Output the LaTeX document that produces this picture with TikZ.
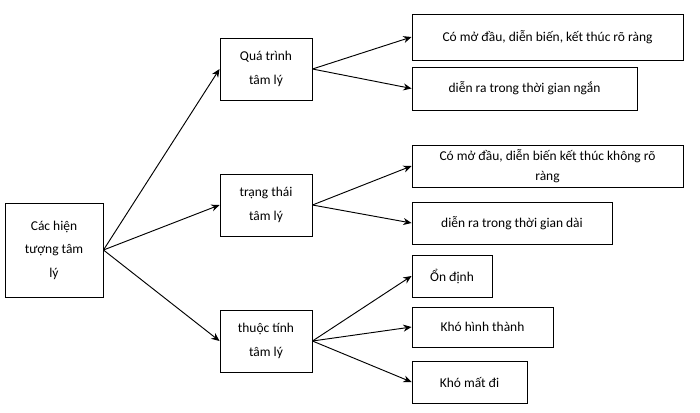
\documentclass[tikz,border=0pt]{standalone}
\usepackage{fontspec}
\setmainfont{Carlito}
\usetikzlibrary{arrows.meta}

\begin{document}
\begin{tikzpicture}[
    x=0.03cm, y=-0.03cm,
    font=\fontsize{11.5}{20}\selectfont,
    box/.style={rectangle, draw=black, thick, inner sep=2pt, align=center},
    rel/.style={black, thick, -{Stealth[length=7pt,width=6pt]}}
  ]
  \useasboundingbox (0,0) rectangle (700,412);

  % the root and the three kinds
  \node (root)  [box, minimum width=2.94cm, minimum height=2.82cm] at (54,250)
                 {Các hiện\\tượng tâm\\lý};
  \node (proc)  [box, minimum width=2.76cm, minimum height=1.86cm] at (266,69)
                 {Quá trình\\tâm lý};
  \node (state) [box, minimum width=2.76cm, minimum height=1.86cm] at (266,205)
                 {trạng thái\\tâm lý};
  \node (trait) [box, minimum width=2.76cm, minimum height=1.86cm] at (266,341)
                 {thuộc tính\\tâm lý};

  % the leaves
  \node (clear) [box, minimum width=8.13cm, minimum height=1.38cm] at (547.5,37)
                 {Có mở đầu, diễn biến, kết thúc rõ ràng};
  \node (short) [box, minimum width=6.75cm, minimum height=1.29cm] at (524.5,88.5)
                 {diễn ra trong thời gian ngắn};
  \node (vague) [box, minimum width=8.13cm, minimum height=1.26cm,
                 font=\fontsize{11.5}{17}\selectfont] at (547.5,166)
                 {Có mở đầu, diễn biến kết thúc không rõ\\ràng};
  \node (long)  [box, minimum width=6cm, minimum height=1.26cm] at (512,223)
                 {diễn ra trong thời gian dài};
  \node (stable)[box, minimum width=2.4cm, minimum height=1.26cm] at (452,276)
                 {Ổn định};
  \node (hard)  [box, minimum width=4.23cm, minimum height=1.2cm] at (482.5,327)
                 {Khó hình thành};
  \node (lost)  [box, minimum width=3.45cm, minimum height=1.26cm] at (469.5,382)
                 {Khó mất đi};

  \draw[rel] (root.east) -- (proc.west);
  \draw[rel] (root.east) -- (state.west);
  \draw[rel] (root.east) -- (trait.west);

  \draw[rel] (proc.east)  -- (clear.west);
  \draw[rel] (proc.east)  -- (short.west);
  \draw[rel] (state.east) -- (vague.west);
  \draw[rel] (state.east) -- (long.west);
  \draw[rel] (trait.east) -- (stable.west);
  \draw[rel] (trait.east) -- (hard.west);
  \draw[rel] (trait.east) -- (lost.west);
\end{tikzpicture}
\end{document}
